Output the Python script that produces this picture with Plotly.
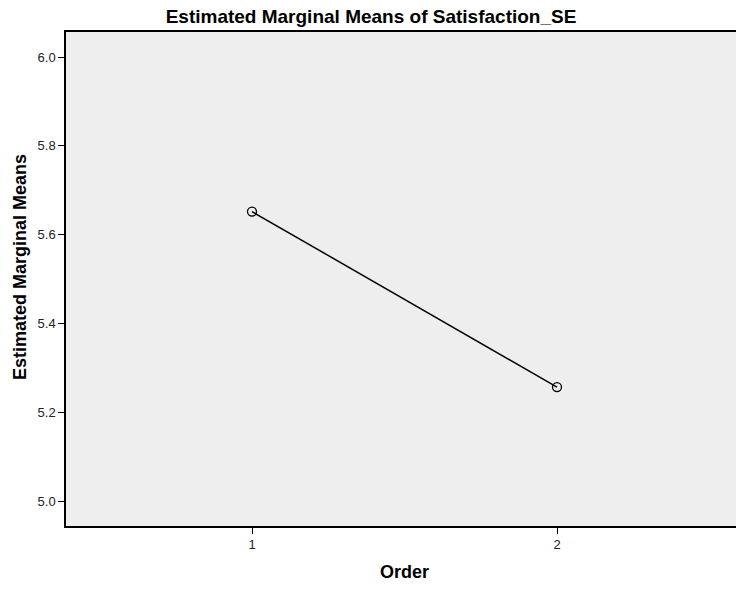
import plotly.graph_objects as go

order = [1, 2]
means = [5.652, 5.257]
y_ticks = [5.0, 5.2, 5.4, 5.6, 5.8, 6.0]
y_tick_labels = ["5.0", "5.2", "5.4", "5.6", "5.8", "6.0"]
x_tick_labels = ["1", "2"]

FONT = "Arial, Liberation Sans, sans-serif"

fig = go.Figure()
fig.add_trace(go.Scatter(
    x=order, y=means, mode="lines+markers",
    line=dict(color="black", width=1.5),
    marker=dict(symbol="circle-open", size=9, color="black", line=dict(width=1.3)),
    showlegend=False, hoverinfo="x+y",
))

fig.update_layout(
    width=736, height=589,
    margin=dict(l=66, r=0, t=32, b=63),
    paper_bgcolor="white",
    plot_bgcolor="#EEEEEE",
    font=dict(family=FONT, size=13, color="#222222"),
    title=dict(text="<b>Estimated Marginal Means of Satisfaction_SE</b>",
               x=371 / 736, y=1 - 16 / 589, xref="container", yref="container",
               xanchor="center", yanchor="middle",
               font=dict(family=FONT, size=19, color="black")),
)
fig.update_xaxes(
    range=[1 - 186 / 305, 2 + 179 / 305],
    tickvals=order, ticktext=x_tick_labels,
    showgrid=False, zeroline=False,
    showline=True, linecolor="black", linewidth=1.5, mirror=True,
    ticks="outside", ticklen=6, tickwidth=1.2, tickcolor="black",
    tickfont=dict(family=FONT, size=13, color="#222222"),
)
fig.update_yaxes(
    range=[5.0 - 24.7 / 444, 6.0 + 25 / 444],
    tickvals=y_ticks, ticktext=y_tick_labels,
    showgrid=False, zeroline=False,
    showline=True, linecolor="black", linewidth=1.5, mirror=False,
    ticks="outside", ticklen=6, tickwidth=1.2, tickcolor="black",
    tickfont=dict(family=FONT, size=13, color="#222222"),
)
fig.add_annotation(
    text="<b>Estimated Marginal Means</b>", textangle=-90,
    xref="paper", yref="paper", x=0, y=(526 - 267) / 494,
    xshift=-46, xanchor="center", yanchor="middle", showarrow=False,
    font=dict(family=FONT, size=18, color="black"),
)
fig.add_annotation(
    text="<b>Order</b>",
    xref="paper", yref="paper", x=(405 - 66) / 670, y=0,
    yshift=-46, xanchor="center", yanchor="middle", showarrow=False,
    font=dict(family=FONT, size=18, color="black"),
)

fig.write_html("out.html")
